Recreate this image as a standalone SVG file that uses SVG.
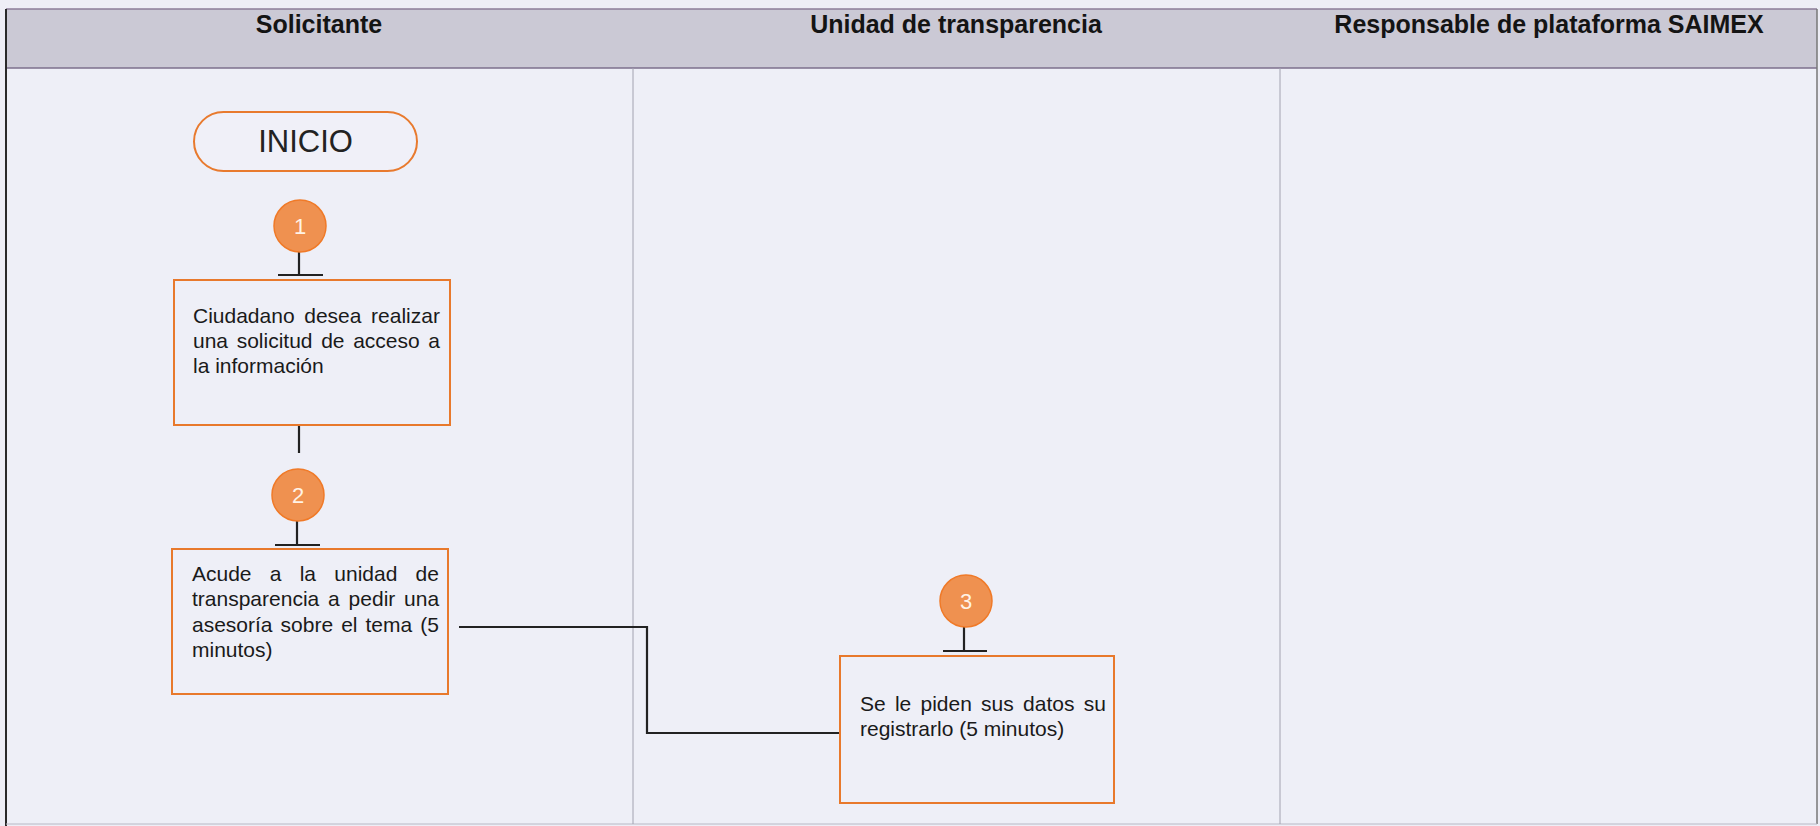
<svg xmlns="http://www.w3.org/2000/svg" width="1820" height="826" viewBox="0 0 1820 826">
<style>
.hdr{font-family:"Liberation Sans",Arial,sans-serif;font-size:25px;font-weight:bold;fill:#141414;text-anchor:middle}
.box{fill:none;stroke:#e8792c;stroke-width:2}
.txt{font-family:"Liberation Sans",Arial,sans-serif;font-size:21px;fill:#1a1a1a}
.num{fill:#ef9150;stroke:#f07a28;stroke-width:1.5}
.numt{font-family:"Liberation Sans",Arial,sans-serif;font-size:22px;fill:#fff3e6;text-anchor:middle}
.con{fill:none;stroke:#222;stroke-width:2.2}
</style>
<rect x="0" y="0" width="1820" height="826" fill="#eeeef6"/>
<g id="table">
<rect x="6" y="68" width="1811" height="756" fill="#eeeff7"/>
<rect x="6" y="9" width="1811" height="59" fill="#cbc9d5"/>
<line x1="6" y1="9" x2="1817" y2="9" stroke="#8c7d98" stroke-width="1.5"/>
<line x1="6" y1="68" x2="1817" y2="68" stroke="#7d6f8c" stroke-width="1.5"/>
<line x1="6" y1="9" x2="6" y2="826" stroke="#2a2a2a" stroke-width="2"/>
<line x1="1817" y1="9" x2="1817" y2="824" stroke="#777" stroke-width="1.5"/>
<line x1="6" y1="824" x2="1817" y2="824" stroke="#b8b8c4" stroke-width="1"/>
<line x1="633" y1="68" x2="633" y2="824" stroke="#a2a2b0" stroke-width="1"/>
<line x1="1280" y1="68" x2="1280" y2="824" stroke="#a2a2b0" stroke-width="1"/>
<text class="hdr" x="319" y="33">Solicitante</text>
<text class="hdr" x="956" y="33">Unidad de transparencia</text>
<text class="hdr" x="1549" y="33">Responsable de plataforma SAIMEX</text>
</g>
<g id="connectors">
<line class="con" x1="299" y1="252" x2="299" y2="275"/>
<line class="con" x1="278" y1="275" x2="323" y2="275" stroke-width="2.8"/>
<line class="con" x1="299" y1="425" x2="299" y2="453"/>
<line class="con" x1="297" y1="521" x2="297" y2="545"/>
<line class="con" x1="275" y1="545" x2="320" y2="545" stroke-width="2.8"/>
<polyline class="con" points="459,627 647,627 647,733 840,733"/>
<line class="con" x1="964" y1="627" x2="964" y2="651"/>
<line class="con" x1="943" y1="651" x2="987" y2="651" stroke-width="2.8"/>
</g>
<g id="inicio">
<rect x="194" y="112" width="223" height="59" rx="29.5" fill="#f0f0f8" stroke="#e87a2e" stroke-width="2"/>
<text x="305.5" y="152" font-family="Liberation Sans, Arial, sans-serif" font-size="31" fill="#222" text-anchor="middle">INICIO</text>
</g>
<g id="step1">
<circle class="num" cx="300" cy="226" r="26"/>
<text class="numt" x="300" y="234">1</text>
</g>
<g id="box1">
<rect class="box" x="174" y="280" width="276" height="145"/>
<text class="txt" x="193" y="323" word-spacing="3.8">Ciudadano desea realizar</text>
<text class="txt" x="193" y="348" word-spacing="2.8">una solicitud de acceso a</text>
<text class="txt" x="193" y="373">la información</text>
</g>
<g id="step2">
<circle class="num" cx="298" cy="495" r="26"/>
<text class="numt" x="298" y="503">2</text>
</g>
<g id="box2">
<rect class="box" x="172" y="549" width="276" height="145"/>
<text class="txt" x="192" y="581" word-spacing="12.4">Acude a la unidad de</text>
<text class="txt" x="192" y="606" word-spacing="3">transparencia a pedir una</text>
<text class="txt" x="192" y="632" word-spacing="2.2">asesoría sobre el tema (5</text>
<text class="txt" x="192" y="657">minutos)</text>
</g>
<g id="step3">
<circle class="num" cx="966" cy="601" r="26"/>
<text class="numt" x="966" y="609">3</text>
</g>
<g id="box3">
<rect class="box" x="840" y="656" width="274" height="147"/>
<text class="txt" x="860" y="711" word-spacing="3.4">Se le piden sus datos su</text>
<text class="txt" x="860" y="736">registrarlo (5 minutos)</text>
</g>
</svg>
